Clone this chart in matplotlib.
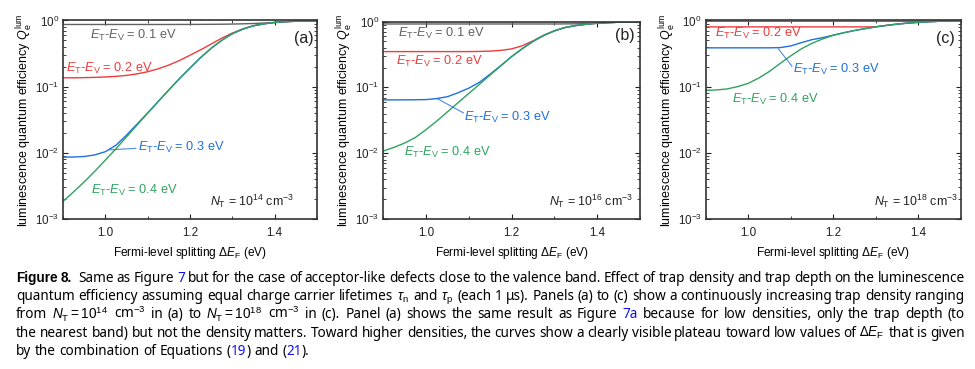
import re
import matplotlib
matplotlib.use("Agg")
import matplotlib.pyplot as plt
from matplotlib.ticker import MultipleLocator, LogLocator, NullFormatter
from matplotlib.transforms import IdentityTransform

plt.rcParams['font.family'] = ['Liberation Sans', 'DejaVu Sans']
plt.rcParams['mathtext.fontset'] = 'custom'
plt.rcParams['mathtext.rm'] = 'Liberation Sans'
plt.rcParams['mathtext.it'] = 'Liberation Sans:italic'
plt.rcParams['mathtext.bf'] = 'Liberation Sans:bold'

# Fermi-level splitting (eV)
x_ev = [0.900, 0.925, 0.950, 0.975, 1.000, 1.025, 1.050, 1.075, 1.100, 1.125, 1.150, 1.175, 1.200,
        1.225, 1.250, 1.275, 1.300, 1.325, 1.350, 1.375, 1.400, 1.425, 1.450, 1.475, 1.500]

# panel (a), N_T = 1e14
gray_a = [0.870, 0.870, 0.870, 0.870, 0.870, 0.870, 0.870, 0.870, 0.870, 0.870, 0.870, 0.871, 0.872,
          0.873, 0.875, 0.878, 0.883, 0.890, 0.900, 0.915, 0.935, 0.959, 0.975, 0.984, 0.989]
red_a = [0.136, 0.136, 0.137, 0.138, 0.140, 0.143, 0.148, 0.156, 0.168, 0.186, 0.212, 0.248, 0.298,
         0.360, 0.440, 0.540, 0.645, 0.745, 0.834, 0.891, 0.933, 0.959, 0.975, 0.984, 0.989]
blue_a = [0.0086, 0.00865, 0.0088, 0.0093, 0.0104, 0.0130, 0.0185, 0.0272, 0.0400, 0.0598, 0.0891, 0.132, 0.191,
          0.275, 0.380, 0.501, 0.631, 0.741, 0.832, 0.891, 0.933, 0.959, 0.975, 0.984, 0.989]
green_a = [0.00184, 0.00257, 0.00363, 0.00525, 0.00776, 0.0115, 0.0174, 0.0263, 0.0398, 0.0596, 0.0891, 0.132, 0.191,
           0.275, 0.380, 0.501, 0.631, 0.741, 0.832, 0.891, 0.933, 0.959, 0.975, 0.984, 0.989]

# panel (b), N_T = 1e16
gray_b = [0.920, 0.920, 0.920, 0.920, 0.920, 0.920, 0.920, 0.920, 0.920, 0.920, 0.920, 0.920, 0.920,
          0.920, 0.920, 0.920, 0.920, 0.922, 0.925, 0.930, 0.946, 0.964, 0.977, 0.984, 0.989]
red_b = [0.350, 0.350, 0.350, 0.350, 0.350, 0.350, 0.350, 0.350, 0.350, 0.352, 0.356, 0.365, 0.385,
         0.430, 0.510, 0.620, 0.725, 0.815, 0.871, 0.912, 0.944, 0.964, 0.977, 0.984, 0.989]
blue_b = [0.0646, 0.0646, 0.0646, 0.0649, 0.0653, 0.0676, 0.0724, 0.0832, 0.0977, 0.120, 0.160, 0.216, 0.295,
          0.389, 0.501, 0.617, 0.724, 0.813, 0.871, 0.912, 0.944, 0.964, 0.977, 0.984, 0.989]
green_b = [0.0108, 0.0123, 0.0143, 0.0174, 0.0229, 0.0309, 0.0427, 0.0589, 0.0813, 0.112, 0.155, 0.214, 0.295,
           0.389, 0.501, 0.617, 0.724, 0.813, 0.871, 0.912, 0.944, 0.964, 0.977, 0.984, 0.989]

# panel (c), N_T = 1e18
gray_c = [0.975, 0.975, 0.975, 0.975, 0.975, 0.975, 0.975, 0.975, 0.975, 0.975, 0.975, 0.975, 0.975,
          0.975, 0.975, 0.975, 0.975, 0.975, 0.975, 0.975, 0.975, 0.977, 0.980, 0.984, 0.989]
red_c = [0.800, 0.800, 0.800, 0.800, 0.800, 0.800, 0.800, 0.800, 0.800, 0.800, 0.800, 0.800, 0.800,
         0.800, 0.800, 0.800, 0.805, 0.843, 0.881, 0.912, 0.938, 0.957, 0.973, 0.982, 0.989]
blue_c = [0.386, 0.386, 0.386, 0.386, 0.386, 0.386, 0.386, 0.389, 0.412, 0.462, 0.513, 0.550, 0.600,
          0.653, 0.705, 0.753, 0.800, 0.841, 0.881, 0.912, 0.938, 0.957, 0.973, 0.982, 0.989]
green_c = [0.0881, 0.0891, 0.0923, 0.100, 0.112, 0.135, 0.170, 0.224, 0.292, 0.372, 0.452, 0.525, 0.596,
           0.653, 0.705, 0.753, 0.800, 0.841, 0.881, 0.912, 0.938, 0.957, 0.973, 0.982, 0.989]

depths = ['0.1', '0.2', '0.3', '0.4']
panels = ['(a)', '(b)', '(c)']
densities = ['14', '16', '18']
curves = [[gray_a, red_a, blue_a, green_a],
          [gray_b, red_b, blue_b, green_b],
          [gray_c, red_c, blue_c, green_c]]

colors = ['#616161', '#ee3b3b', '#1f6fde', '#2ea35e']

# label placement per panel: (x, y) of the left edge, None = not shown
label_pos = [
    [(0.963, 0.60), (0.906, 0.19), (1.078, 0.0122), (0.965, 0.0027)],
    [(0.935, 0.66), (0.929, 0.248), (1.089, 0.0345), (0.947, 0.0102)],
    [None, (0.922, 0.64), (1.106, 0.18), (0.961, 0.064)],
]
leader = [((1.011, 0.0111), (1.072, 0.0117)),
          ((1.027, 0.0668), (1.087, 0.041)),
          ((1.071, 0.373), (1.103, 0.204))]
tag_pos = [(1.492, 0.54), (1.488, 0.605), (1.486, 0.535)]
nt_pos = [(1.446, 0.00184), (1.484, 0.00187), (1.494, 0.00187)]

fig = plt.figure(figsize=(9.75, 3.69), dpi=100)
rects = [[0.0646, 0.4065, 0.2605, 0.538],
         [0.3933, 0.4065, 0.2631, 0.535],
         [0.7238, 0.4065, 0.2615, 0.538]]

for i in range(3):
    ax = fig.add_axes(rects[i])
    for k in range(4):
        ax.plot(x_ev, curves[i][k], color=colors[k], lw=1.0)
    ax.set_yscale('log')
    ax.set_xlim(0.9, 1.5)
    ax.set_ylim(1e-3, 1.0)
    ax.xaxis.set_major_locator(MultipleLocator(0.2))
    ax.xaxis.set_minor_locator(MultipleLocator(0.1))
    ax.yaxis.set_major_locator(LogLocator(base=10, numticks=10))
    ax.yaxis.set_minor_locator(LogLocator(base=10, subs=range(2, 10), numticks=10))
    ax.yaxis.set_minor_formatter(NullFormatter())
    ax.tick_params(which='both', direction='in', top=True, right=True, labelsize=8.4, colors='#222222')
    ax.tick_params(which='major', length=3.5, width=0.8, pad=3)
    ax.tick_params(axis='x', which='major', pad=6)
    ax.tick_params(which='minor', length=2, width=0.6)
    for s in ax.spines.values():
        s.set_color('#333333')
        s.set_linewidth(1.2)
    ax.set_xlabel(r'Fermi-level splitting $\Delta E_\mathrm{F}$ (eV)', fontsize=8.6, labelpad=4)
    ax.set_ylabel(r'luminescence quantum efficiency $Q_\mathrm{e}^\mathrm{lum}$', fontsize=9, labelpad=0)

    for k in range(4):
        if label_pos[i][k] is None:
            continue
        lx, ly = label_pos[i][k]
        ax.text(lx, ly, r'$E_\mathrm{T}$-$E_\mathrm{V}$ = ' + depths[k] + ' eV', color=colors[k],
                fontsize=9.2, ha='left', va='center')
    (x1, y1), (x2, y2) = leader[i]
    ax.plot([x1, x2], [y1, y2], color=colors[2], lw=0.8, alpha=0.8)
    ax.text(tag_pos[i][0], tag_pos[i][1], panels[i], fontsize=11.5, ha='right', va='center', color='#222222')
    ax.text(nt_pos[i][0], nt_pos[i][1], r'$N_\mathrm{T}$ = 10$^{' + densities[i] + r'}$ cm$^{-3}$',
            fontsize=8.9, ha='right', va='center', color='#222222')

# caption, justified line by line
cap_lines = [
    "**Figure** **8.** Same as Figure [7] but for the case of acceptor-like defects close to the valence band. "
    "Effect of trap density and trap depth on the luminescence",
    r"quantum efficiency assuming equal charge carrier lifetimes $\tau_\mathrm{n}$ and $\tau_\mathrm{p}$ "
    "(each 1 μs). Panels (a) to (c) show a continuously increasing trap density ranging",
    r"from $N_\mathrm{T}=10^{14}$ cm$^{-3}$ in (a) to $N_\mathrm{T}=10^{18}$ cm$^{-3}$ in (c). Panel (a) shows "
    "the same result as Figure [7a] because for low densities, only the trap depth (to",
    "the nearest band) but not the density matters. Toward higher densities, the curves show a clearly "
    r"visible plateau toward low values of Δ$E_\mathrm{F}$ that is given",
    "by the combination of Equations ([19]) and ([21]).",
]
cap_font = ['Noto Sans', 'DejaVu Sans']
bold_font = ['Liberation Sans', 'DejaVu Sans']
link = '#1010e8'
left_px, right_px = 16, 965
base_px = [282, 300.2, 318.4, 336.6, 354.8]

fig.canvas.draw()
rend = fig.canvas.get_renderer()


def advance(s, size, fam, wt):
    t = fig.text(0, 0, '|' + s + '|', transform=IdentityTransform(), family=fam, fontsize=size, weight=wt)
    if '$' in s:
        # mathtext boxes are already measured by advance
        t.set_text(s)
        w = t.get_window_extent(renderer=rend).width + 0.6
        t.remove()
        return w
    # ink width of |s| minus ink width of || gives the advance of s
    w1 = t.get_window_extent(renderer=rend).width
    t.set_text('||')
    w0 = t.get_window_extent(renderer=rend).width
    t.remove()
    return w1 - w0


def split_line(line):
    words = []
    for w in line.split(' '):
        parts = []
        for p in re.split(r'(\[[^\]]+\]|\*\*[^*]+\*\*)', w):
            if not p:
                continue
            c, wt, fam = 'black', 'normal', cap_font
            if p.startswith('['):
                p, c = p[1:-1], link
            elif p.startswith('**'):
                p, wt, fam = p[2:-2], 'bold', bold_font
            parts.append((p, c, wt, fam))
        words.append(parts)
    return words


split = [split_line(l) for l in cap_lines]
extra = {(0, 1): 3.0}   # wider space after "Figure 8."

# pick one font size so that lines 1-4 come out with ordinary word spacing
s0 = 9.0
sizes = []
for words in split[:4]:
    a = sum(advance(p, s0, fam, wt) for parts in words for p, c, wt, fam in parts)
    gaps = (len(words) - 1) * 0.27 * 100 / 72
    sizes.append((right_px - left_px) / (a / s0 + gaps))
cap_size = sum(sizes) / len(sizes)

for n, words in enumerate(split):
    y = 369 - base_px[n]
    placed = []
    total = sum(v for (ln, j), v in extra.items() if ln == n)
    for parts in words:
        row = []
        for p, c, wt, fam in parts:
            wd = advance(p, cap_size, fam, wt)
            t = fig.text(0, y, p, transform=IdentityTransform(), family=fam, fontsize=cap_size,
                         color=c, weight=wt, va='baseline', ha='left')
            row.append((t, wd))
            total += wd
        placed.append(row)
    if n < 4:
        gap = (right_px - left_px - total) / (len(words) - 1)
    else:
        gap = 0.27 * cap_size * 100 / 72
    xpos = left_px
    for j, row in enumerate(placed):
        for t, wd in row:
            t.set_x(xpos)
            xpos += wd
        xpos += gap + extra.get((n, j), 0)

fig.savefig('out.png', dpi=100)
